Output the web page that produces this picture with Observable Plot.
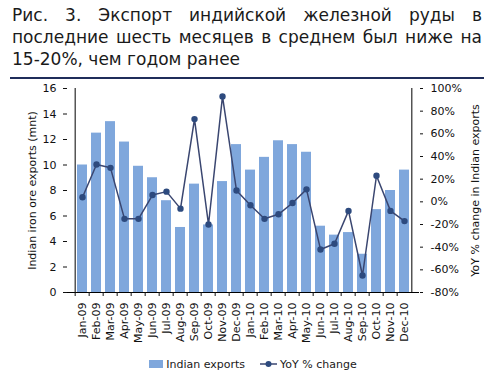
<!DOCTYPE html>
<html>
<head>
<meta charset="utf-8">
<script src="https://cdn.jsdelivr.net/npm/d3@7"></script>
<script src="https://cdn.jsdelivr.net/npm/@observablehq/plot@0.6"></script>
<style>
  html, body { margin: 0; padding: 0; background: #fff; width: 488px; height: 378px; overflow: hidden; }
  body { font-family: "DejaVu Sans", Verdana, sans-serif; color: #1a1a1a; }
  #title { padding: 4px 6px 0 12px; font-size: 17px; line-height: 22px; height: 73px; box-sizing: border-box; }
  #title .j { text-align: justify; text-align-last: justify; white-space: nowrap; }
  #title .l { text-align: left; }
  #rule { margin: 4px 4px 0 10px; height: 2px; background: #1f2d5a; }
  #chart { height: 272px; }
  #legend { display: flex; justify-content: center; align-items: center; font-size: 11px; height: 26px; padding-left: 18px; box-sizing: border-box; }
  #legend .item { display: flex; align-items: center; }
  #legend .sw { width: 14px; height: 8px; background: #7fa7dc; margin-right: 3px; }
</style>
</head>
<body>
<div id="title">
  <div class="j">Рис. 3. Экспорт индийской железной руды в</div>
  <div class="j">последние шесть месяцев в среднем был ниже на</div>
  <div class="l">15-20%, чем годом ранее</div>
</div>
<div id="rule"></div>
<div id="chart"></div>
<div id="legend">
  <div class="item"><div class="sw"></div><span>Indian exports</span></div>
  <div class="item" style="margin-left:15px"><svg width="17" height="8" style="margin-right:3px"><line x1="0" y1="4" x2="17" y2="4" stroke="#3a4670" stroke-width="1.5"/><circle cx="8.5" cy="4" r="3" fill="#2d4a7e"/></svg><span>YoY % change</span></div>
</div>
<script>
const months = ["Jan-09","Feb-09","Mar-09","Apr-09","May-09","Jun-09","Jul-09","Aug-09","Sep-09","Oct-09","Nov-09","Dec-09",
                "Jan-10","Feb-10","Mar-10","Apr-10","May-10","Jun-10","Jul-10","Aug-10","Sep-10","Oct-10","Nov-10","Dec-10"];
const exportsMnt = [10.0,12.5,13.4,11.8,9.9,9.0,7.2,5.1,8.5,5.3,8.7,11.6,
                    9.6,10.6,11.9,11.6,11.0,5.2,4.5,4.7,3.0,6.5,8.0,9.6];
const yoyPct = [4,33,30,-15,-15,6,9,-6,73,-20,93,10,
                -3,-15,-11,-1,11,-42,-37,-8,-65,23,-8,-17];
const leftTicks = [0,2,4,6,8,10,12,14,16];
const rightTicks = [-80,-60,-40,-20,0,20,40,60,80,100];

const yMax = 16, pMin = -80, pMax = 100;
const toLeft = p => (p - pMin) / (pMax - pMin) * yMax;
const fromLeft = y => y / yMax * (pMax - pMin) + pMin;

const data = months.map((m, i) => ({month: m, exp: exportsMnt[i], yoy: yoyPct[i]}));

const W = 488, H = 272, mL = 67, mR = 69, mT = 9, mB = 59;
const step = (W - mL - mR) / months.length;

const chart = Plot.plot({
  width: W, height: H,
  marginLeft: mL, marginRight: mR, marginTop: mT, marginBottom: mB,
  style: {fontFamily: "DejaVu Sans, Verdana, sans-serif", fontSize: "11px", color: "#111", background: "transparent"},
  x: {domain: months, paddingInner: 0.3, paddingOuter: 0.15, label: null},
  y: {domain: [0, yMax], label: null},
  marks: [
    Plot.barY(data, {x: "month", y: "exp", fill: "#7fa7dc"}),
    Plot.ruleY([0], {stroke: "#000"}),
    Plot.ruleX([months[0]], {dx: -step / 2, stroke: "#000"}),
    Plot.ruleX([months[months.length - 1]], {dx: step / 2, stroke: "#000"}),
    Plot.line(data, {x: "month", y: d => toLeft(d.yoy), stroke: "#3a4670", strokeWidth: 1.5}),
    Plot.dot(data, {x: "month", y: d => toLeft(d.yoy), r: 3.2, fill: "#2d4a7e", stroke: "none"}),
    Plot.axisY(leftTicks, {anchor: "left", tickSize: 4, tickPadding: 7, fontSize: 11,
      label: "Indian iron ore exports (mnt)", labelAnchor: "center", labelArrow: "none", labelOffset: 39}),
    Plot.axisY(rightTicks.map(toLeft), {anchor: "right", tickSize: 3, tickPadding: 8, fontSize: 11,
      tickFormat: v => Math.round(fromLeft(v)) + "%",
      label: "YoY % change in Indian exports", labelAnchor: "center", labelArrow: "none", labelOffset: 59}),
    Plot.axisX({tickSize: 0, tickRotate: -90, tickPadding: 10, fontSize: 11, label: null}),
    Plot.axisX({tickSize: 4, tickFormat: () => "", dx: -step / 2, label: null})
  ]
});
document.getElementById("chart").appendChild(chart);
</script>
</body>
</html>
